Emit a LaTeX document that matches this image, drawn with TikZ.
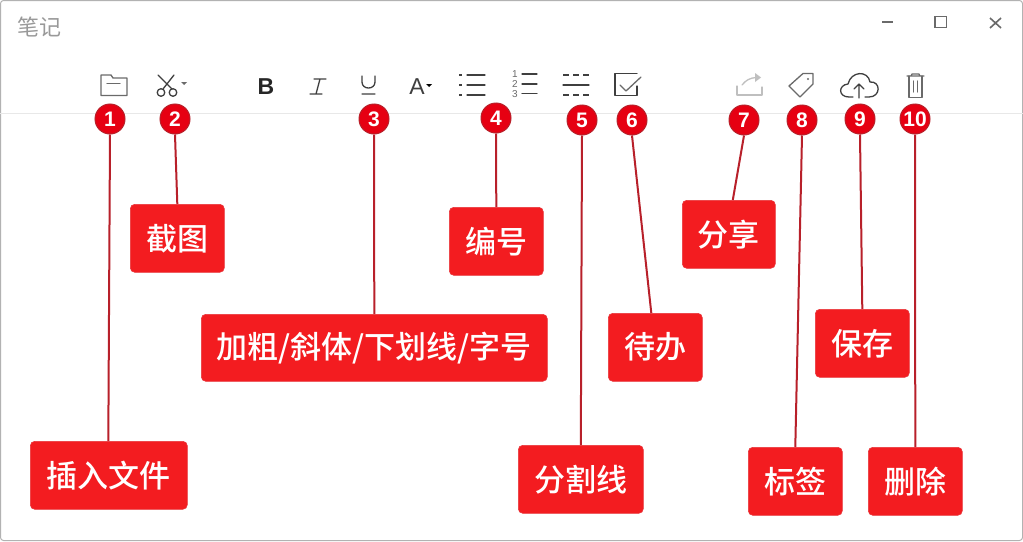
\documentclass[tikz,border=0pt]{standalone}
\usepackage{fontspec}
\setmainfont{Liberation Sans}
\newfontfamily\cjk{Noto Sans CJK SC}
\newfontfamily\cjkm{Noto Sans CJK SC Medium}
\definecolor{hred}{HTML}{F31C20}
\definecolor{hedge}{HTML}{E8353A}
\definecolor{hdark}{HTML}{B8202A}
\definecolor{cfill}{HTML}{E60012}
\definecolor{icon}{HTML}{3F3F3F}
\definecolor{iconl}{HTML}{6A6A6A}
\tikzset{
  x=1pt,y=-1pt,
  callout/.style={draw=hedge,line width=.6pt,fill=hred,rounded corners=4.5pt,inner sep=0pt,text=white,anchor=north west,font=\cjkm\fontsize{31}{31}\selectfont,align=center},
  badge/.style={circle,draw=hdark,line width=1pt,fill=cfill,minimum size=30pt,inner sep=0pt,text=white,font=\fontsize{21}{21}\selectfont\bfseries},
  lead/.style={draw=hdark,line width=2pt},
  ico/.style={draw=icon,line width=1.3pt,line join=round,line cap=round},
  icolt/.style={draw=iconl,line width=1.3pt,line join=round,line cap=round},
  icolight/.style={draw=black!25,line width=1.3pt,line join=round,line cap=round},
}
\newcommand{\cbox}[6]{\node[callout,minimum width=#4-#2,minimum height=#5-#3] (#1) at (#2,#3) {#6};}
\begin{document}
\begin{tikzpicture}
\useasboundingbox (0,0) rectangle (1023,541);
\fill[white] (0,0) rectangle (1023,541);
\draw[black!30,line width=1pt,rounded corners=3pt] (.5,.5) -- (1022.5,.5) -- (1022.5,540.5) -- (.5,540.5) -- cycle;
\draw[black!9,line width=1pt] (0,113.5) -- (1023,113.5);
% title bar
\node[text=black!40,font=\cjk\fontsize{22}{22}\selectfont,inner sep=0pt] (title) at (39,27) {笔记};
\draw[iconl,line width=1.6pt] (882,22) -- (893,22);
\draw[iconl,line width=1.6pt] (935,16.5) rectangle (946.5,27.5);
\draw[iconl,line width=1.6pt] (990,18) -- (1001,28) (1001,18) -- (990,28);
% folder
\draw[icolt] (101,76) -- (101,75) -- (111,75) -- (113,78) -- (127,78) -- (127,95.5) -- (101,95.5) -- cycle;
\draw[icolt] (107,83.5) -- (120,83.5);
% scissors
\draw[ico] (158,75) -- (172,89) (174,75) -- (163,89);
\draw[ico] (161,92.5) circle (3.8) (173,92.5) circle (3.8);
\fill[iconl] (181,82) -- (187,82) -- (184,85) -- cycle;
% B I U
\node[text=black!85,font=\fontsize{23}{23}\selectfont\bfseries,inner sep=0pt] (tb) at (266,87) {B};
\draw[ico] (314,79) -- (326,79) (310,94) -- (322,94) (320,79) -- (316,94);
\draw[ico] (362,76) -- (362,82) .. controls (362,90) and (375,90) .. (375,82) -- (375,76) (362,94) -- (375,94);
% A
\node[text=icon,font=\fontsize{23}{23}\selectfont,inner sep=0pt] (ta) at (417,87) {A};
\fill[black] (426,84) -- (432,84) -- (429,87) -- cycle;
% bullets
\foreach \y in {75,85,95} {
  \draw[ico] (467,\y) -- (485,\y);
  \fill[icon] (459,\y-.7) rectangle (462,\y+.7);
}
% numbered
\foreach \y/\n in {74/1,84/2,93.5/3} {
  \draw[ico] (522,\y) -- (537,\y);
  \node[text=iconl,font=\fontsize{10}{10}\selectfont,inner sep=0pt] at (515,\y+.5) {\n};
}
% divider
\draw[ico,line cap=butt,dash pattern=on 6pt off 4pt] (563,75) -- (589,75);
\draw[ico] (563,85) -- (589,85);
\draw[ico,line cap=butt,dash pattern=on 6pt off 4pt] (563,95) -- (589,95);
% todo
\draw[ico] (637,73.5) -- (615,73.5) -- (615,95.5) -- (637,95.5) -- (637,86);
\draw[icolt] (620,85) -- (626,91) -- (641,77);
% share
\draw[icolight] (737,86) -- (737,95) -- (762,95) -- (762,87);
\draw[icolight] (742,85) .. controls (746,80) and (750,78) .. (756,77.5);
\fill[black!25] (755,73) -- (761,77.5) -- (755,82) -- cycle;
% tag
\draw[icolt] (789,86) -- (803,73.5) -- (813,73.5) -- (813,84) -- (800,97) -- cycle;
\fill[iconl] (808,79) circle (1.2);
% cloud
\draw[ico] (853,97) -- (849,97) .. controls (838,97) and (838,85) .. (848,84) .. controls (851,71) and (868,70) .. (870,82) .. controls (881,81) and (881,97) .. (869,97) -- (865,97);
\draw[ico] (859,98) -- (859,84) (854,89) -- (859,84) -- (864,89);
% trash
\draw[icolt] (907,76) -- (924,76) (911,76) -- (912,74) -- (919,74) -- (920,76);
\draw[icolt] (909,76) -- (909,97.5) -- (922,97.5) -- (922,76) (913.5,81) -- (913.5,92) (917.5,81) -- (917.5,92);
% callouts
\cbox{b1}{30}{441}{187}{509}{插入文件}
\cbox{b2}{130}{204}{224}{272}{截图}
\cbox{b3}{201}{314}{547}{381}{加粗/斜体/下划线/字号}
\cbox{b4}{449}{207}{543}{275}{编号}
\cbox{b5}{518}{445}{643}{513}{分割线}
\cbox{b6}{608}{313}{702}{381}{待办}
\cbox{b7}{682}{200}{775}{268}{分享}
\cbox{b8}{748}{447}{842}{515}{标签}
\cbox{b9}{815}{309}{909}{377}{保存}
\cbox{b10}{868}{447}{962}{515}{删除}
% badges
\foreach \n/\x/\y in {1/110/119,2/175/119,3/374/119,4/496/118,5/582/120,6/632/120,7/744/120,8/802/120,9/860/119,10/915/119}
  \node[badge] (c\n) at (\x,\y) {\n};
% connectors
\draw[lead] (c1.south) -- ([xshift=-.5pt]b1.north);
\draw[lead] (c2.south) -- (b2.north);
\draw[lead] (c3.south) -- (b3.north);
\draw[lead] (c4.south) -- (b4.north);
\draw[lead] (c5.south) -- (b5.north);
\draw[lead] (c6.south) -- ([xshift=-4pt]b6.north);
\draw[lead] (c7.south) -- ([xshift=4pt]b7.north);
\draw[lead] (c8.south) -- (b8.north);
\draw[lead] (c9.south) -- (b9.north);
\draw[lead] (c10.south) -- (b10.north);
\end{tikzpicture}
\end{document}
